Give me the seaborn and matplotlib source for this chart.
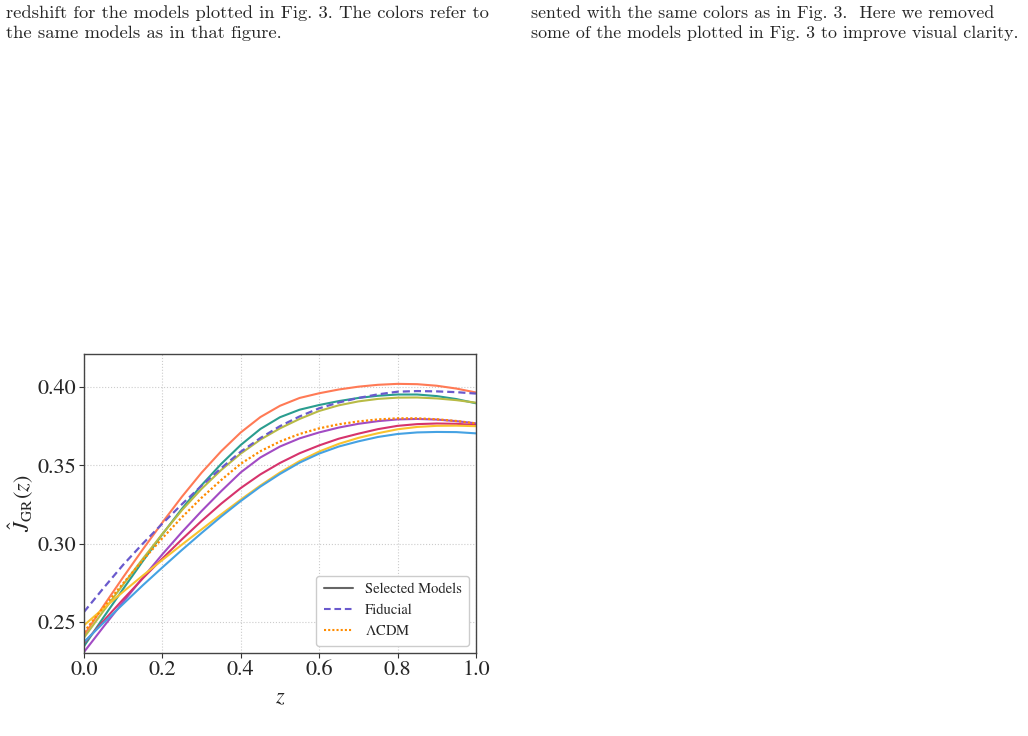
import numpy as np
import pandas as pd
import matplotlib
matplotlib.use('Agg')
import matplotlib.pyplot as plt
import seaborn as sns
from matplotlib.lines import Line2D

# valores (z = 0.00, 0.05, ..., 1.00)
z = [0.00, 0.05, 0.10, 0.15, 0.20, 0.25, 0.30, 0.35, 0.40, 0.45, 0.50,
     0.55, 0.60, 0.65, 0.70, 0.75, 0.80, 0.85, 0.90, 0.95, 1.00]

coral = [0.2415, 0.2603, 0.2786, 0.2963, 0.3135, 0.3300, 0.3453, 0.3590, 0.3710, 0.3808, 0.3880,
         0.3930, 0.3960, 0.3984, 0.4002, 0.4014, 0.4020, 0.4018, 0.4008, 0.3990, 0.3965]
teal = [0.2345, 0.2530, 0.2711, 0.2888, 0.3060, 0.3223, 0.3373, 0.3509, 0.3630, 0.3732, 0.3807,
        0.3855, 0.3885, 0.3910, 0.3930, 0.3944, 0.3952, 0.3952, 0.3942, 0.3923, 0.3896]
olive = [0.2400, 0.2571, 0.2739, 0.2903, 0.3062, 0.3214, 0.3350, 0.3470, 0.3575, 0.3664, 0.3736,
         0.3796, 0.3847, 0.3883, 0.3908, 0.3924, 0.3932, 0.3933, 0.3927, 0.3916, 0.3900]
purple = [0.2308, 0.2470, 0.2628, 0.2782, 0.2932, 0.3074, 0.3208, 0.3335, 0.3455, 0.3550, 0.3620,
          0.3672, 0.3710, 0.3741, 0.3765, 0.3782, 0.3793, 0.3796, 0.3792, 0.3782, 0.3768]
crimson = [0.2365, 0.2507, 0.2645, 0.2778, 0.2905, 0.3028, 0.3145, 0.3255, 0.3355, 0.3442, 0.3515,
           0.3577, 0.3627, 0.3670, 0.3702, 0.3731, 0.3752, 0.3763, 0.3767, 0.3765, 0.3757]
gold = [0.2479, 0.2587, 0.2693, 0.2796, 0.2896, 0.2994, 0.3091, 0.3187, 0.3281, 0.3371, 0.3454,
        0.3527, 0.3588, 0.3637, 0.3675, 0.3705, 0.3730, 0.3745, 0.3752, 0.3753, 0.3750]
blue = [0.2372, 0.2495, 0.2615, 0.2734, 0.2848, 0.2960, 0.3068, 0.3173, 0.3272, 0.3364, 0.3445,
        0.3517, 0.3575, 0.3620, 0.3653, 0.3681, 0.3700, 0.3710, 0.3713, 0.3712, 0.3704]
fiducial = [0.2564, 0.2717, 0.2865, 0.3000, 0.3128, 0.3252, 0.3370, 0.3482, 0.3587, 0.3674, 0.3750,
            0.3812, 0.3864, 0.3901, 0.3930, 0.3953, 0.3970, 0.3974, 0.3972, 0.3967, 0.3958]
lcdm = [0.2436, 0.2594, 0.2747, 0.2894, 0.3035, 0.3169, 0.3293, 0.3406, 0.3510, 0.3590, 0.3652,
        0.3700, 0.3736, 0.3762, 0.3780, 0.3793, 0.3800, 0.3800, 0.3794, 0.3783, 0.3768]

modelos = {
    'coral': (coral, '#ff7a55'),
    'teal': (teal, '#2a9d8f'),
    'olive': (olive, '#b8bb45'),
    'purple': (purple, '#a24bc4'),
    'crimson': (crimson, '#d6336c'),
    'gold': (gold, '#f9c22e'),
    'blue': (blue, '#45a2e3'),
}

legenda_txt = ['Selected Models', 'Fiducial', r'$\Lambda$CDM']

caption_left = ['redshift for the models plotted in Fig. 3. The colors refer to',
                'the same models as in that figure.']
caption_right = ['sented with the same colors as in Fig. 3.  Here we removed',
                 'some of the models plotted in Fig. 3 to improve visual clarity.']

estilo_fid = (0, (3.2, 1.8))
estilo_lcdm = (0, (1, 1.0))

sns.set_style('ticks')
plt.rcParams['font.family'] = ['STIXGeneral', 'DejaVu Serif']
plt.rcParams['mathtext.fontset'] = 'stix'

fig = plt.figure(figsize=(10.28, 7.36), dpi=100)
ax = fig.add_axes([0.0817, 0.1128, 0.3813, 0.4063])

for nome, (vals, cor) in modelos.items():
    sns.lineplot(x=z, y=vals, color=cor, linewidth=1.5, ax=ax)

sns.lineplot(x=z, y=fiducial, color='#6a5acd', linewidth=1.6, ax=ax, linestyle=estilo_fid)
sns.lineplot(x=z, y=lcdm, color='#ff8c00', linewidth=1.6, ax=ax, linestyle=estilo_lcdm)

ax.set_xlim(0, 1)
ax.set_ylim(0.2302, 0.4211)
ax.set_xticks([0.0, 0.2, 0.4, 0.6, 0.8, 1.0])
ax.set_yticks([0.25, 0.30, 0.35, 0.40])
ax.set_xticklabels(['0.0', '0.2', '0.4', '0.6', '0.8', '1.0'])
ax.set_yticklabels(['0.25', '0.30', '0.35', '0.40'])
ax.tick_params(labelsize=16, length=3.5, width=0.8, color='#333333', pad=2)
ax.grid(True, linestyle=':', color='#cccccc', linewidth=0.8)
for s in ax.spines.values():
    s.set_color('#444444')
    s.set_linewidth(1.0)

ax.set_xlabel('$z$', fontsize=16, labelpad=6)
ax.set_ylabel(r'$\hat{J}_{\rm GR}(z)$', fontsize=16, labelpad=2)

handles = [Line2D([], [], color='#666666', lw=1.5),
           Line2D([], [], color='#6a5acd', lw=1.5, linestyle=estilo_fid),
           Line2D([], [], color='#ff8c00', lw=1.5, linestyle=estilo_lcdm)]
ax.legend(handles, legenda_txt, loc='lower right', fontsize=10.5, frameon=True,
          edgecolor='#cccccc', framealpha=1, borderpad=0.5, handlelength=2.0)

# texto da legenda do artigo (topo da página)
for i, linha in enumerate(caption_left):
    fig.text(6 / 1028, 1 - (18 + 20 * i) / 736, linha, family='cmr10', fontsize=13.4,
             va='baseline', ha='left')
for i, linha in enumerate(caption_right):
    fig.text(531 / 1028, 1 - (18 + 20 * i) / 736, linha, family='cmr10', fontsize=12.9,
             va='baseline', ha='left')

plt.savefig('out.png', dpi=100)
